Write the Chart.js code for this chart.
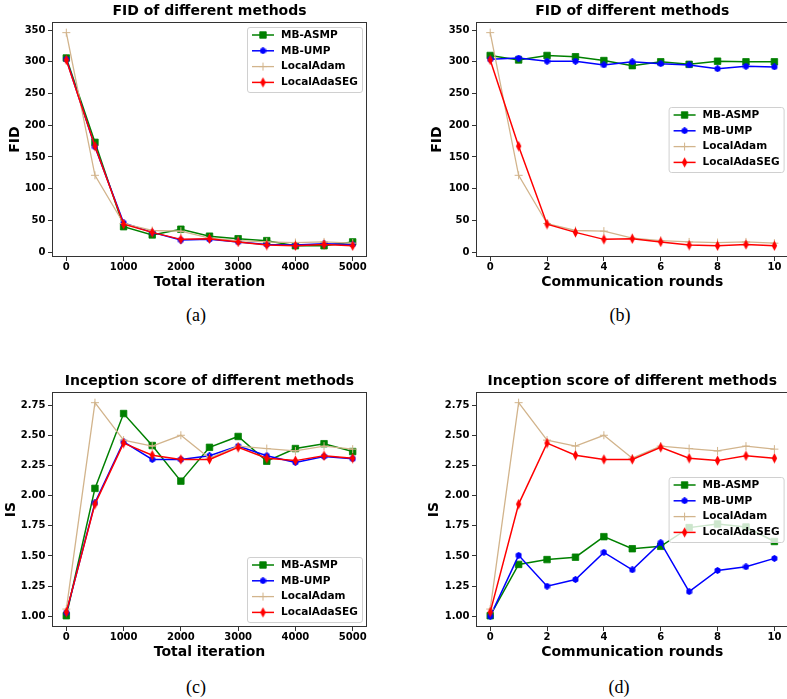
<!DOCTYPE html>
<html>
<head>
<meta charset="utf-8">
<script src="https://cdn.jsdelivr.net/npm/chart.js@4.4.0/dist/chart.umd.min.js"></script>
<style>
  html, body { margin: 0; padding: 0; background: #fff; }
  #page { position: relative; width: 787px; height: 699px; overflow: hidden; }
  canvas { position: absolute; }
  .cap { position: absolute; font-family: 'Liberation Serif', serif; font-size: 18px; color: #000;
         transform: translate(-50%, -50%); white-space: nowrap; }
</style>
</head>
<body>
<div id="page">
  <canvas id="chartA" width="394" height="300" style="left:0;top:0"></canvas>
  <canvas id="chartB" width="400" height="300" style="left:394px;top:0"></canvas>
  <canvas id="chartC" width="394" height="300" style="left:0;top:370px"></canvas>
  <canvas id="chartD" width="400" height="300" style="left:394px;top:370px"></canvas>
  <div class="cap" style="left:196px;top:315px">(a)</div>
  <div class="cap" style="left:620px;top:315px">(b)</div>
  <div class="cap" style="left:196px;top:687px">(c)</div>
  <div class="cap" style="left:619px;top:687px">(d)</div>
</div>
<script>
// x values
var iterX = [0, 500, 1000, 1500, 2000, 2500, 3000, 3500, 4000, 4500, 5000];
var roundX = [0, 1, 2, 3, 4, 5, 6, 7, 8, 9, 10];
var iterTicks = [0, 1000, 2000, 3000, 4000, 5000];
var roundTicks = [0, 2, 4, 6, 8, 10];
var fidTicks = [0, 50, 100, 150, 200, 250, 300, 350];
var isTicks = [1.00, 1.25, 1.50, 1.75, 2.00, 2.25, 2.50, 2.75];

var methods = ["MB-ASMP", "MB-UMP", "LocalAdam", "LocalAdaSEG"];

// FID
var fidIterAsmp = [306, 173, 40, 27, 36, 25, 21, 18, 10, 10, 16];
var fidIterUmp = [304, 166, 46, 31, 19, 20, 16, 12, 11, 13, 12];
var fidRoundAsmp = [310, 303, 310, 308, 302, 294, 300, 296, 301, 300, 300];
var fidRoundUmp = [304, 306, 301, 301, 295, 300, 297, 295, 289, 293, 292];
var fidAdam = [346, 121, 45, 34, 33, 22, 18, 16, 15, 16, 14];
var fidAdaSeg = [303, 167, 44, 31, 20, 21, 16, 11, 10, 12, 10];

// Inception score
var isIterAsmp = [1.005, 2.06, 2.68, 2.415, 2.12, 2.40, 2.49, 2.285, 2.39, 2.43, 2.365];
var isIterUmp = [1.03, 1.94, 2.445, 2.30, 2.30, 2.33, 2.41, 2.33, 2.275, 2.325, 2.305];
var isRoundAsmp = [1.005, 1.43, 1.47, 1.49, 1.66, 1.56, 1.58, 1.735, 1.765, 1.74, 1.62];
var isRoundUmp = [1.0, 1.505, 1.25, 1.305, 1.53, 1.385, 1.61, 1.205, 1.38, 1.41, 1.48];
var isAdam = [1.06, 2.77, 2.46, 2.41, 2.50, 2.31, 2.41, 2.39, 2.37, 2.41, 2.385];
var isAdaSeg = [1.035, 1.93, 2.435, 2.335, 2.30, 2.30, 2.40, 2.31, 2.29, 2.33, 2.31];

Chart.defaults.font.family = "'DejaVu Sans', sans-serif";
Chart.defaults.font.weight = "bold";
Chart.defaults.color = "#000";

// small marker images (hexagon + thin diamond like matplotlib)
function hexMarker(color) {
  var c = document.createElement("canvas");
  c.width = 7; c.height = 7;
  var g = c.getContext("2d");
  g.fillStyle = color;
  g.beginPath();
  for (var k = 0; k < 6; k++) {
    var a = -Math.PI / 2 + k * Math.PI / 3;
    g.lineTo(3.5 + 3.4 * Math.cos(a), 3.5 + 3.4 * Math.sin(a));
  }
  g.closePath();
  g.fill();
  return c;
}
function thinDiamond(color) {
  var c = document.createElement("canvas");
  c.width = 7; c.height = 11;
  var g = c.getContext("2d");
  g.fillStyle = color;
  g.beginPath();
  g.moveTo(3.5, 0.3); g.lineTo(6.2, 5.5); g.lineTo(3.5, 10.7); g.lineTo(0.8, 5.5);
  g.closePath();
  g.fill();
  return c;
}

var lineStyles = [
  {color: "#008000", point: "rect", radius: 4.6, width: 1.5, order: 3},
  {color: "#0000ff", point: hexMarker("#0000ff"), radius: 3, width: 1.5, order: 2},
  {color: "#d2b48c", point: "cross", radius: 4, width: 1.3, order: 1},
  {color: "#ff0000", point: thinDiamond("#ff0000"), radius: 3, width: 1.5, order: 0}
];

function pairs(xs, ys) {
  return xs.map(function (x, i) { return {x: x, y: ys[i]}; });
}

// frame around the axes + legend inside the plot
var framePlugin = {
  id: "frame",
  afterDraw: function (chart, args, opts) {
    var a = chart.chartArea, ctx = chart.ctx;
    ctx.save();
    ctx.strokeStyle = "#333";
    ctx.lineWidth = 1;
    ctx.strokeRect(Math.round(a.left) + 0.5, Math.round(a.top) + 0.5,
      Math.round(a.right - a.left) - 1, Math.round(a.bottom - a.top) - 1);

    var w = 115, h = 65;
    var x0 = a.right - 5 - w;
    var y0;
    if (opts.loc === "upper") y0 = a.top + 5;
    else if (opts.loc === "lower") y0 = a.bottom - 5 - h;
    else y0 = (a.top + a.bottom) / 2 - h / 2;

    ctx.fillStyle = "rgba(255,255,255,0.8)";
    ctx.strokeStyle = "#d0d0d0";
    ctx.beginPath();
    ctx.roundRect(x0 + 0.5, y0 + 0.5, w, h, 2.5);
    ctx.fill();
    ctx.stroke();

    chart.data.datasets.forEach(function (ds, i) {
      var yy = y0 + 8 + i * 15.8;
      ctx.strokeStyle = ds.borderColor;
      ctx.lineWidth = ds.borderWidth;
      ctx.beginPath();
      ctx.moveTo(x0 + 5, yy);
      ctx.lineTo(x0 + 27, yy);
      ctx.stroke();
      ctx.fillStyle = ds.pointBackgroundColor;
      ctx.strokeStyle = ds.pointBorderColor;
      ctx.lineWidth = ds.pointBorderWidth;
      Chart.helpers.drawPoint(ctx, {pointStyle: ds.pointStyle, radius: ds.pointRadius,
        rotation: 0, borderWidth: ds.pointBorderWidth}, x0 + 16, yy);
      ctx.fillStyle = "#000";
      ctx.font = "bold 10.5px 'DejaVu Sans'";
      ctx.textBaseline = "middle";
      ctx.textAlign = "left";
      ctx.fillText(ds.label, x0 + 34, yy);
    });
    ctx.restore();
  }
};

function makePanel(id, cfg) {
  var datasets = cfg.series.map(function (ys, i) {
    var s = lineStyles[i];
    return {
      label: methods[i],
      data: pairs(cfg.xs, ys),
      borderColor: s.color,
      borderWidth: s.width,
      pointStyle: s.point,
      pointRadius: s.radius,
      pointBackgroundColor: s.color,
      pointBorderColor: s.color,
      pointBorderWidth: i === 2 ? 1 : 0.8,
      order: s.order,
      tension: 0
    };
  });

  return new Chart(id, {
    type: "line",
    data: {datasets: datasets},
    plugins: [framePlugin],
    options: {
      responsive: false,
      animation: false,
      events: [],
      layout: {padding: cfg.padding},
      plugins: {
        legend: {display: false},
        tooltip: {enabled: false},
        title: {
          display: true,
          text: cfg.title,
          fullSize: false,
          color: "#000",
          font: {size: 14, weight: "bold"},
          padding: {top: 3, bottom: 2.2}
        },
        frame: {loc: cfg.legendLoc}
      },
      scales: {
        x: {
          type: "linear",
          min: cfg.xMin,
          max: cfg.xMax,
          afterBuildTicks: function (s) { s.ticks = cfg.xTicks.map(function (v) { return {value: v}; }); },
          afterFit: function (s) { s.height = 43; },
          border: {display: false},
          grid: {drawOnChartArea: false, drawTicks: true, tickLength: 4, color: "#333"},
          ticks: {
            padding: 0, color: "#000", maxRotation: 0, autoSkip: false,
            font: {size: 10, weight: "bold"},
            callback: function (v) { return String(v); }
          },
          title: {
            display: true, text: cfg.xTitle, color: "#000",
            font: {size: 14, weight: "bold"},
            padding: {top: 0, bottom: 9.6}
          }
        },
        y: {
          min: cfg.yMin,
          max: cfg.yMax,
          afterBuildTicks: function (s) { s.ticks = cfg.yTicks.map(function (v) { return {value: v}; }); },
          afterFit: function (s) { s.width = 52; },
          border: {display: false},
          grid: {drawOnChartArea: false, drawTicks: true, tickLength: 4, color: "#333"},
          ticks: {
            padding: 2.5, color: "#000", autoSkip: false,
            font: {size: 10, weight: "bold"},
            callback: cfg.yFormat
          },
          title: {
            display: true, text: cfg.yTitle, color: "#000",
            font: {size: 14, weight: "bold"},
            padding: {top: cfg.yTitlePad, bottom: 0}
          }
        }
      }
    }
  });
}

var fidFmt = function (v) { return String(v); };
var isFmt = function (v) { return Number(v).toFixed(2); };

makePanel("chartA", {
  xs: iterX, series: [fidIterAsmp, fidIterUmp, fidAdam, fidAdaSeg],
  title: "FID of different methods", xTitle: "Total iteration", yTitle: "FID",
  xMin: -250, xMax: 5250, xTicks: iterTicks,
  yMin: -7.8, yMax: 362.8, yTicks: fidTicks, yFormat: fidFmt,
  padding: {left: 0, right: 27, top: 0, bottom: 0}, yTitlePad: 6.6, legendLoc: "upper"
});

makePanel("chartB", {
  xs: roundX, series: [fidRoundAsmp, fidRoundUmp, fidAdam, fidAdaSeg],
  title: "FID of different methods", xTitle: "Communication rounds", yTitle: "FID",
  xMin: -0.5, xMax: 10.5, xTicks: roundTicks,
  yMin: -7.8, yMax: 362.8, yTicks: fidTicks, yFormat: fidFmt,
  padding: {left: 30, right: 4, top: 0, bottom: 0}, yTitlePad: 5.4, legendLoc: "center"
});

makePanel("chartC", {
  xs: iterX, series: [isIterAsmp, isIterUmp, isAdam, isAdaSeg],
  title: "Inception score of different methods", xTitle: "Total iteration", yTitle: "IS",
  xMin: -250, xMax: 5250, xTicks: iterTicks,
  yMin: 0.9115, yMax: 2.8585, yTicks: isTicks, yFormat: isFmt,
  padding: {left: 0, right: 27, top: 0, bottom: 0}, yTitlePad: 3.0, legendLoc: "lower"
});

makePanel("chartD", {
  xs: roundX, series: [isRoundAsmp, isRoundUmp, isAdam, isAdaSeg],
  title: "Inception score of different methods", xTitle: "Communication rounds", yTitle: "IS",
  xMin: -0.5, xMax: 10.5, xTicks: roundTicks,
  yMin: 0.9115, yMax: 2.8585, yTicks: isTicks, yFormat: isFmt,
  padding: {left: 30, right: 4, top: 0, bottom: 0}, yTitlePad: 2.1, legendLoc: "center"
});
</script>
</body>
</html>
